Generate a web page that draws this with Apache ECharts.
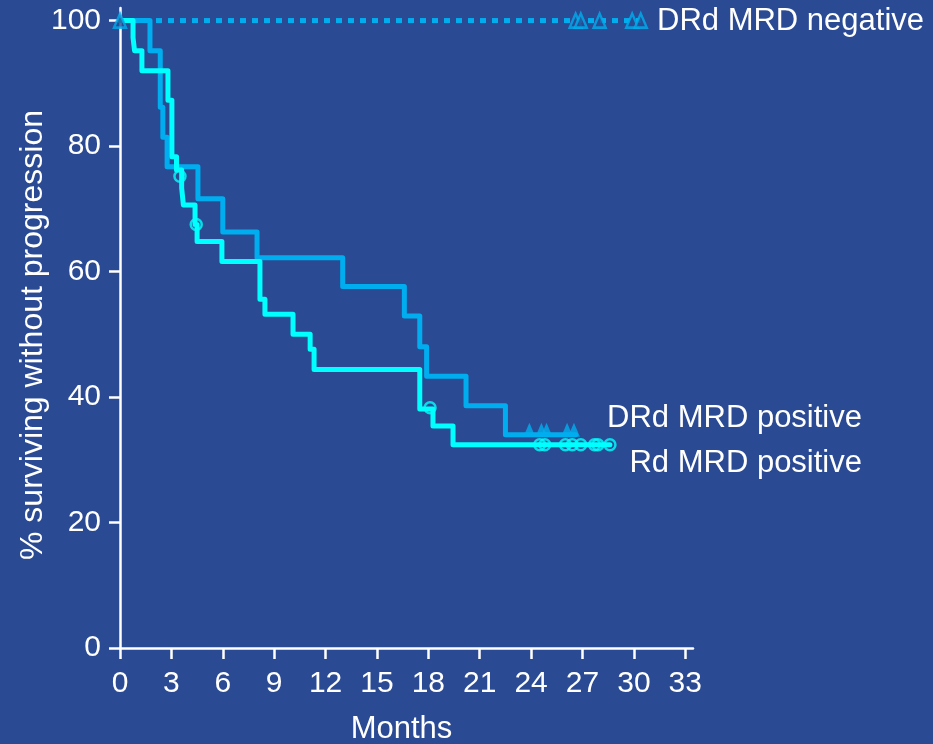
<!DOCTYPE html>
<html>
<head>
<meta charset="utf-8">
<style>
  html, body { margin: 0; padding: 0; background: #2A4A94; }
  #chart { width: 933px; height: 744px; }
</style>
<script src="https://cdn.jsdelivr.net/npm/echarts@6/dist/echarts.min.js"></script>
</head>
<body>
<div id="chart"></div>
<script>
// Kaplan-Meier progression-free survival by MRD status
// Step points: [month, % surviving without progression]
const rdPositiveSteps = [
  [0, 100], [0.76, 97.3], [0.85, 95.2], [1.28, 92.0], [2.8, 87.3], [3.03, 78.3],
  [3.3, 76.2], [3.6, 73.3], [3.7, 70.6], [4.38, 67.5], [4.5, 64.8], [5.95, 61.6],
  [8.17, 55.6], [8.46, 53.2], [10.1, 50.0], [11.1, 47.6], [11.33, 44.4],
  [17.5, 38.1], [18.27, 35.4], [19.44, 32.4], [28.6, 32.4]
];
const rdPositiveCensored = [
  [3.5, 75.2], [4.45, 67.5], [18.1, 38.3],
  [24.5, 32.4], [24.8, 32.4], [26.0, 32.4], [26.4, 32.4], [26.9, 32.4],
  [27.7, 32.4], [27.9, 32.4], [28.6, 32.4]
];

const drdPositiveSteps = [
  [0, 100], [1.75, 95.2], [2.35, 86.2], [2.5, 81.4], [2.75, 76.7], [4.55, 71.6],
  [6.0, 66.3], [8.0, 62.2], [13.0, 57.6], [16.6, 52.9], [17.5, 48.0],
  [17.9, 43.3], [20.2, 38.6], [22.5, 34.0], [26.6, 34.0]
];
const drdPositiveCensored = [
  [23.9, 34.0], [24.6, 34.0], [24.9, 34.0], [26.1, 34.0], [26.5, 34.0]
];

const drdNegativeSteps = [[0, 100], [30.4, 100]];
const drdNegativeCensored = [
  [0, 100], [26.6, 100], [26.9, 100], [28.0, 100], [29.9, 100], [30.4, 100]
];

const monthTicks = [0, 3, 6, 9, 12, 15, 18, 21, 24, 27, 30, 33];
const percentTicks = [0, 20, 40, 60, 80, 100];

const seriesNames = ['DRd MRD negative', 'DRd MRD positive', 'Rd MRD positive'];

const BG = '#2A4A94';
const CYAN = '#00FFFF';
const BLUE = '#00AEEF';
const FONT = 'Liberation Sans, Arial, sans-serif';
const LABEL_SIZE = 31;

const chart = echarts.init(document.getElementById('chart'), null, { renderer: 'canvas' });

const axisText = { color: '#fff', fontSize: 30, fontFamily: FONT };

chart.setOption({
  backgroundColor: BG,
  animation: false,
  grid: { left: 120, right: 240, top: 8, bottom: 96, containLabel: false, outerBoundsMode: 'none' },
  xAxis: {
    type: 'value',
    min: 0, max: 33.45,
    name: 'Months',
    nameLocation: 'middle',
    nameGap: 66,
    nameTextStyle: { color: '#fff', fontSize: LABEL_SIZE, fontFamily: FONT, padding: [0, 10, 0, 0] },
    axisLine: { show: true, lineStyle: { color: '#fff', width: 2.5 } },
    axisTick: { show: true, length: 11, customValues: monthTicks, lineStyle: { color: '#fff', width: 2.5 } },
    axisLabel: { customValues: monthTicks, margin: 21, ...axisText },
    splitLine: { show: false }
  },
  yAxis: {
    type: 'value',
    min: 0, max: 102,
    axisLine: { show: true, lineStyle: { color: '#fff', width: 2.5 } },
    axisTick: { show: true, length: 11, customValues: percentTicks, lineStyle: { color: '#fff', width: 2.5 } },
    axisLabel: { customValues: percentTicks, margin: 19, ...axisText },
    splitLine: { show: false }
  },
  graphic: [
    {
      type: 'text', x: 33, y: 335, rotation: Math.PI / 2,
      style: { text: '% surviving without progression', fill: '#fff', fontSize: 32, fontFamily: FONT,
               textAlign: 'center', textVerticalAlign: 'middle' }
    },
    {
      type: 'text', x: 657, y: 21,
      style: { text: seriesNames[0], fill: '#fff', fontSize: LABEL_SIZE, fontFamily: FONT,
               textAlign: 'left', textVerticalAlign: 'middle' }
    },
    {
      type: 'text', x: 862, y: 418,
      style: { text: seriesNames[1], fill: '#fff', fontSize: LABEL_SIZE, fontFamily: FONT,
               textAlign: 'right', textVerticalAlign: 'middle' }
    },
    {
      type: 'text', x: 862, y: 463,
      style: { text: seriesNames[2], fill: '#fff', fontSize: LABEL_SIZE, fontFamily: FONT,
               textAlign: 'right', textVerticalAlign: 'middle' }
    }
  ],
  series: [
    {
      name: seriesNames[2], type: 'line', step: 'end', data: rdPositiveSteps,
      showSymbol: false, z: 3,
      lineStyle: { color: CYAN, width: 5, join: 'round', cap: 'round' }
    },
    {
      name: seriesNames[2] + ' censored', type: 'scatter', data: rdPositiveCensored,
      symbol: 'circle', symbolSize: 11, z: 4,
      itemStyle: { color: 'rgba(0,0,0,0)', borderColor: CYAN, borderWidth: 2.5 }
    },
    {
      name: seriesNames[1], type: 'line', step: 'end', data: drdPositiveSteps,
      showSymbol: false, z: 2,
      lineStyle: { color: BLUE, width: 5, join: 'round', cap: 'round' }
    },
    {
      name: seriesNames[1] + ' censored', type: 'scatter', data: drdPositiveCensored,
      symbol: 'triangle', symbolSize: [12, 14], symbolOffset: [0, -5], z: 4,
      itemStyle: { color: BLUE }
    },
    {
      name: seriesNames[0], type: 'line', data: drdNegativeSteps,
      showSymbol: false, z: 2,
      lineStyle: { color: BLUE, width: 5, type: [6, 6], cap: 'butt' }
    },
    {
      name: seriesNames[0] + ' censored', type: 'scatter', data: drdNegativeCensored,
      symbol: 'triangle', symbolSize: [12, 14], z: 4,
      itemStyle: { color: BG, borderColor: BLUE, borderWidth: 2.5 }
    }
  ]
});
</script>
</body>
</html>
